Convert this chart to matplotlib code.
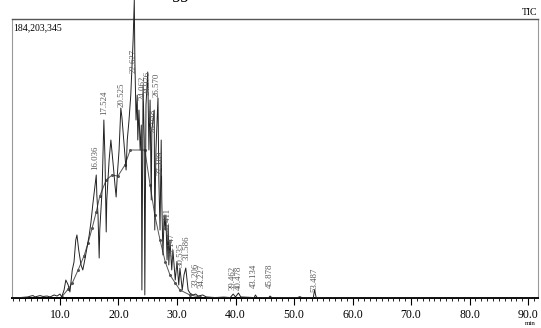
import matplotlib
matplotlib.use("Agg")
import matplotlib.pyplot as plt
from matplotlib.ticker import MultipleLocator

t_tic = [1.8, 3.2, 4.5, 5.0, 5.4, 5.7, 6.6, 7.1, 7.8, 8.3, 9.0, 9.5, 10.0, 10.3,
         10.7, 11.0, 11.4, 11.7, 12.1, 12.4, 12.7, 12.9, 13.2, 13.6, 13.9, 14.3,
         14.6, 15.0, 15.3, 15.6, 16.0, 16.2, 16.3, 16.5, 16.7, 16.8, 17.2, 17.5,
         17.7, 17.9, 18.0, 18.4, 18.7, 19.1, 19.4, 19.6, 19.8, 20.1, 20.4, 20.6,
         20.9, 21.3, 21.5, 21.8, 22.1, 22.5, 22.7, 22.8, 23.0, 23.2, 23.3, 23.5,
         23.7, 23.9, 24.0, 24.2, 24.4, 24.5, 24.7, 25.0, 25.2, 25.4, 25.6, 25.7,
         26.1, 26.2, 26.4, 26.75, 26.9, 27.1, 27.3, 27.4, 27.6, 27.8, 28.0, 28.1,
         28.3, 28.5, 28.6, 28.8, 29.1, 29.3, 29.7, 30.0, 30.3, 30.5, 30.9, 31.2,
         31.5, 31.9, 32.2, 32.7, 33.2, 33.6, 34.4, 35.0, 36.5, 38.0, 39.1, 39.6,
         40.0, 40.5, 40.9, 43.2, 43.4, 43.7, 45.7, 45.9, 46.2, 50.6, 51.0, 51.4,
         53.3, 53.5, 53.8, 60.0, 75.0, 91.7]
i_tic = [0.0, 0.3, 0.7, 1.3, 1.6, 0.7, 1.6, 1.0, 1.3, 0.7, 2.0, 1.3, 2.6, 0.7,
         5.3, 11.9, 8.6, 4.0, 18.5, 23.8, 38.3, 41.6, 31.7, 21.8, 18.5, 26.4,
         33.0, 41.6, 50.2, 61.4, 74.6, 81.2, 68.0, 54.8, 26.4, 44.9, 71.3, 117.5,
         91.1, 43.6, 64.7, 91.1, 104.3, 87.8, 74.6, 66.7, 81.2, 97.7, 125.4, 118.8,
         104.3, 84.5, 104.3, 117.5, 134.0, 170.3, 196.7, 157.1, 117.5, 134.0, 104.3, 124.1,
         97.7, 114.2, 5.3, 140.6, 104.3, 2.0, 127.4, 149.2, 97.7, 130.7, 64.7, 110.9,
         124.1, 44.9, 97.7, 132.0, 77.9, 44.9, 104.3, 64.7, 28.4, 54.8, 44.9, 54.8,
         25.1, 48.2, 21.8, 38.3, 18.5, 31.7, 11.9, 23.8, 8.6, 19.8, 5.3, 15.2,
         19.8, 5.3, 3.3, 2.0, 2.6, 1.3, 2.0, 0.7, 0.3, 0.6, 0.3, 2.6,
         0.7, 3.3, 0.7, 0.3, 2.0, 0.3, 0.3, 1.3, 0.3, 0.3, 0.9, 0.2,
         0.3, 5.3, 0.2, 0.1, 0.1, 0.0]

# envolvente suave que se ve debajo de los picos
t_env = [10.3, 11.4, 12.1, 13.1, 14.1, 14.8, 15.5, 16.2, 16.8, 17.9, 18.9, 19.9,
         21.1, 22.0, 24.5, 25.4, 26.2, 27.1, 28.0, 28.8, 29.7, 30.5, 32.2, 33.9]
i_env = [0.7, 5.9, 9.9, 18.5, 27.7, 36.3, 46.2, 56.8, 67.3, 77.9, 81.2, 80.5,
         87.8, 97.7, 97.7, 74.6, 54.8, 38.3, 23.8, 15.2, 9.9, 5.3, 2.0, 0.7]

# etiquetas de picos: tiempo, texto, altura de la base del texto (x1e6)
pico_t = [16.04, 17.52, 20.52, 22.63, 24.06, 24.98, 26.05, 26.57, 27.19, 28.41,
          29.15, 30.54, 31.59, 33.21, 34.23, 39.46, 40.48, 43.13, 45.88, 53.49]
pico_txt = ["16.036", "17.524", "20.525", "22.627", "24.062", "24.976", "26.048",
            "26.570", "27.189", "28.411", "29.147", "30.535", "31.586", "33.206",
            "34.227", "39.462", "40.478", "43.134", "45.878", "53.487"]
pico_y = [84.5, 120.8, 126.0, 148.5, 130.7, 134.0, 108.9, 132.7, 81.0, 43.6,
          27.0, 20.5, 25.0, 7.3, 6.6, 5.3, 5.3, 6.6, 6.6, 4.0]

SERIF = "Liberation Serif"

fig = plt.figure(figsize=(5.41, 3.28), dpi=100)
ax = fig.add_axes([12 / 541, 30 / 328, 526 / 541, 279 / 328])

ax.plot(t_env, i_env, color="#555555", lw=0.7, marker="o", ms=1.2,
        zorder=2)
ax.plot(t_tic, i_tic, color="#222222", lw=0.7, clip_on=False, zorder=3)

for x, txt, y in zip(pico_t, pico_txt, pico_y):
    ax.text(x, y, txt, rotation=90, ha="center", va="bottom", fontsize=6.3,
            family=SERIF, color="#555555", zorder=4)

ax.set_xlim(1.8, 91.7)
ax.set_ylim(0, 184.2)
ax.set_yticks([])
ax.xaxis.set_major_locator(MultipleLocator(10))
ax.xaxis.set_minor_locator(MultipleLocator(1))
ax.xaxis.set_major_formatter(lambda v, p: f"{v:.1f}")
ax.tick_params(axis="x", which="major", length=5, width=0.8, direction="out",
               labelsize=8.5, pad=3)
ax.tick_params(axis="x", which="minor", length=2.5, width=0.6, direction="out")
for lbl in ax.get_xticklabels():
    lbl.set_family(SERIF)

ax.spines["bottom"].set_linewidth(1.4)
ax.spines["bottom"].set_color("black")
ax.spines["top"].set_color("#555555")
ax.spines["top"].set_linewidth(1.0)
for s in ("left", "right"):
    ax.spines[s].set_color("#999999")
    ax.spines[s].set_linewidth(0.8)

ax.text(0.003, 0.985, "184,203,345", transform=ax.transAxes, ha="left",
        va="top", fontsize=7, family=SERIF)
fig.text(537 / 541, 1 - 15 / 328, "TIC", ha="right", va="baseline",
         fontsize=7, family=SERIF)
fig.text(530 / 541, 2 / 328, "min", ha="center", va="bottom", fontsize=5,
         family=SERIF)
# texto del titulo cortado en el borde superior (solo se ven los trazos bajos)
fig.text(182 / 541, 1 + 2 / 328, "gg", ha="center", va="baseline",
         fontsize=13, family=SERIF, style="italic")

fig.savefig("out.png", dpi=100)
